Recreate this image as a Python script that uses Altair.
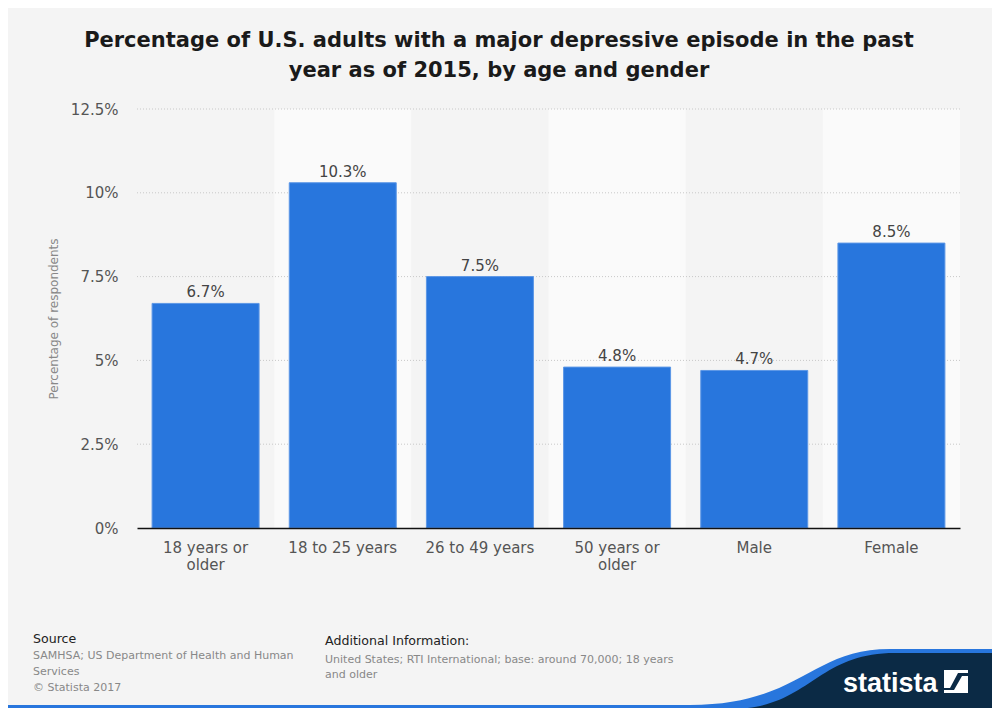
import altair as alt
import pandas as pd

# ---- data ----
categories = ["18 years or older", "18 to 25 years", "26 to 49 years",
              "50 years or older", "Male", "Female"]
values = [6.7, 10.3, 7.5, 4.8, 4.7, 8.5]
y_ticks = [0, 2.5, 5, 7.5, 10, 12.5]
title_lines = ["Percentage of U.S. adults with a major depressive episode in the past",
               "year as of 2015, by age and gender"]
y_title = "Percentage of respondents"
source_head = "Source"
source_lines = ["SAMHSA; US Department of Health and Human", "Services", "© Statista 2017"]
info_head = "Additional Information:"
info_lines = ["United States; RTI International; base: around 70,000; 18 years", "and older"]
brand = "statista"

df = pd.DataFrame({"category": categories, "value": values})
ticks_df = pd.DataFrame({"tick": y_ticks})

W, H = 823, 419
FONT = "DejaVu Sans"
BAR = "#2876dd"

xscale = alt.Scale(domain=categories, paddingInner=0.22, paddingOuter=0.11)
yscale = alt.Scale(domain=[0, 12.5], nice=False, zero=True)

x_axis = alt.Axis(
    title=None, labelAngle=0, labelFont=FONT, labelFontSize=15, labelColor="#555555",
    labelPadding=12, ticks=False, tickSize=0, domainColor="#111111", domainWidth=1.5,
    grid=False, labelBaseline="top", labelLineHeight=17, labelLimit=250, zindex=1,
    labelExpr=("indexof(datum.label, ' or ') > 0 ? "
               "[slice(datum.label, 0, indexof(datum.label, ' or ') + 3), "
               "slice(datum.label, indexof(datum.label, ' or ') + 4)] : datum.label"),
)
y_axis = alt.Axis(
    values=y_ticks, labelExpr="datum.value + '%'", labelFont=FONT, labelFontSize=15,
    labelColor="#555555", labelPadding=19, ticks=False, tickSize=0, domain=False,
    grid=False, title=y_title, titleFont=FONT, titleFontSize=12, titleFontWeight="normal",
    titleColor="#888888", titleX=-84, titleY=H / 2, titleAngle=270, titleAlign="center",
    titleBaseline="middle",
)

x_enc = alt.X("category:N", scale=xscale, sort=categories, axis=x_axis)

bands = (
    alt.Chart(df)
    .transform_window(idx="row_number()")
    .transform_filter("datum.idx % 2 == 0")
    .mark_bar(width=alt.RelativeBandSize(1 / 0.78), color="#fafafa")
    .encode(x=x_enc, y=alt.YDatum(12.5, scale=yscale, axis=y_axis), y2=alt.Y2Datum(0))
)

grid = (
    alt.Chart(ticks_df)
    .transform_filter("datum.tick > 0")
    .mark_rule(color="#c8c8c8", strokeDash=[1, 2], strokeWidth=1)
    .encode(y=alt.Y("tick:Q", scale=yscale, axis=y_axis))
)

bars = (
    alt.Chart(df)
    .mark_bar(color=BAR, stroke="#5c97e6", strokeWidth=1)
    .encode(x=x_enc, y=alt.Y("value:Q", scale=yscale, axis=y_axis))
)

labels = (
    alt.Chart(df)
    .transform_calculate(label="format(datum.value, '.1f') + '%'")
    .mark_text(baseline="alphabetic", dy=-6, font=FONT, fontSize=15, color="#444444")
    .encode(x=x_enc, y=alt.Y("value:Q", scale=yscale, axis=y_axis), text="label:N")
)


def note(text, x, y, size, color, weight="normal", align="left", line_height=None, font=FONT):
    props = dict(text=text, font=font, fontSize=size, color=color, fontWeight=weight,
                 align=align, baseline="alphabetic")
    if line_height:
        props["lineHeight"] = line_height
    return (alt.Chart(alt.Data(values=[{}])).mark_text(**props)
            .encode(x=alt.value(x), y=alt.value(y)))


def shape(path, color):
    return (alt.Chart(alt.Data(values=[{}]))
            .mark_point(shape=path, size=4, filled=True, fill=color, color=color,
                        opacity=1, strokeWidth=0)
            .encode(x=alt.value(0), y=alt.value(0)))


title = note(title_lines, 362, -62, 21, "#1a1a1a", weight="bold", align="center", line_height=30)
src_h = note(source_head, -104, 534, 12.6, "#222222")
src_b = note(source_lines, -104, 550, 11, "#888888", line_height=16)
inf_h = note(info_head, 188, 535.5, 12.6, "#222222")
inf_b = note(info_lines, 188, 554, 11, "#888888", line_height=15)

# decorative footer wave + brand (chart area ends at page y=708, x=992)
wave_blue = shape("M -137 596 L 553 596 C 663 596 673 540 753 540 L 863 540 L 863 600 L -137 600 Z", BAR)
wave_navy = shape("M 593 600 C 673 600 678 544 758 544 L 863 544 L 863 600 Z", "#0b2a45")
icon_a = shape("M 807 561 L 831 561 L 831 564 L 821 564 L 813 579 L 807 579 Z", "#ffffff")
icon_b = shape("M 831 567 L 831 584 L 807 584 L 807 581 L 817 581 L 825 567 Z", "#ffffff")
logo = note(brand, 706, 583, 27, "#ffffff", weight="bold",
            font="Liberation Sans Narrow, Liberation Sans")

chart = (
    alt.layer(bands, grid, bars, labels, title, src_h, src_b, inf_h, inf_b,
              wave_blue, wave_navy, icon_a, icon_b, logo)
    .properties(width=W, height=H,
                padding={"left": 129, "top": 101, "right": 32, "bottom": 180},
                autosize=alt.AutoSizeParams(type="none"),
                background="#f4f4f4")
    .configure_view(stroke="transparent")
)

chart.save("out.html", embed_options={"renderer": "svg", "actions": False})
